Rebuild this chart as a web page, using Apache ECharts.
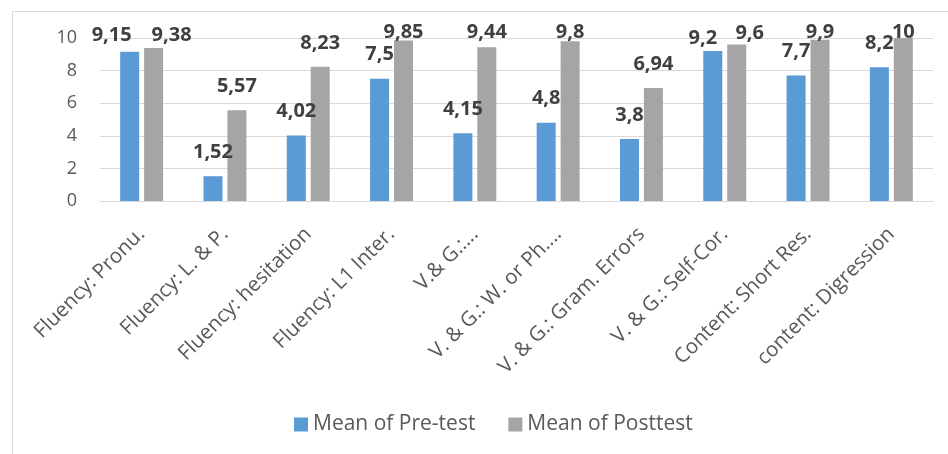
<!DOCTYPE html>
<html><head><meta charset="utf-8">
<script src="https://cdn.jsdelivr.net/npm/echarts@6/dist/echarts.min.js"></script>
<style>html,body{margin:0;padding:0;background:#fff}#c{width:948px;height:454px}</style>
</head><body><div id="c"></div>
<script>
const categories = ["Fluency: Pronu.", "Fluency: L. & P.", "Fluency: hesitation", "Fluency: L1 Inter.", "V.& G.:...", "V. & G.: W. or Ph....", "V. & G.: Gram. Errors", "V. & G.: Self-Cor.", "Content: Short Res.", "content: Digression"];
const preTest = [9.15, 1.52, 4.02, 7.5, 4.15, 4.8, 3.8, 9.2, 7.7, 8.2];
const postTest = [9.38, 5.57, 8.23, 9.85, 9.44, 9.8, 6.94, 9.6, 9.9, 10];
const seriesNames = ["Mean of Pre-test", "Mean of Posttest"];
const yTicks = [0, 2, 4, 6, 8, 10];

// label nudges for crowded groups: "seriesIndex-dataIndex" -> {dx, top}
const labelNudges = {
  '0-0': {dx: -18, top: 25}, '1-0': {dx: 18, top: 25},
  '0-7': {dx: -10, top: 28}, '1-7': {dx: 13, top: 23}
};

const chart = echarts.init(document.getElementById('c'));
const fmt = p => String(p.value).replace('.', ',');
const labelStyle = {show: true, position: 'top', distance: 14, formatter: fmt,
  fontFamily: 'Open Sans', fontWeight: 'bold', fontSize: 20, color: '#404040'};
function layout(p) {
  const r = p.labelRect;
  const n = labelNudges[p.seriesIndex + '-' + p.dataIndex];
  if (n) return {dx: n.dx, dy: n.top - r.y};
  const desired = Math.max(22, p.rect.y - 14 - r.height);
  return {dy: desired - r.y};
}
chart.setOption({
  animation: false,
  textStyle: {fontFamily: 'Open Sans'},
  graphic: [{type: 'rect', left: 10, top: 9, shape: {width: 960, height: 470},
    style: {fill: 'none', stroke: '#d9d9d9', lineWidth: 1}, silent: true}],
  grid: {left: 100, right: 15, top: 38, bottom: 253},
  legend: {bottom: 14, left: 289, itemWidth: 14, itemHeight: 14, itemGap: 33, icon: 'rect',
    textStyle: {fontSize: 21, color: '#595959', fontFamily: 'Open Sans'},
    data: seriesNames},
  xAxis: {type: 'category', data: categories,
    axisLine: {lineStyle: {color: '#d9d9d9', width: 1}}, axisTick: {show: false},
    axisLabel: {rotate: 45, interval: 0, margin: 30, fontSize: 20.5, color: '#595959', fontFamily: 'Open Sans'}},
  yAxis: {type: 'value', min: yTicks[0], max: yTicks[yTicks.length - 1], interval: 2,
    axisLine: {show: false}, axisTick: {show: false},
    splitLine: {lineStyle: {color: '#d9d9d9', width: 1}},
    axisLabel: {margin: 23, fontSize: 18, color: '#595959', fontFamily: 'Open Sans'}},
  series: [
    {name: seriesNames[0], type: 'bar', data: preTest, barWidth: 19, barGap: '26%',
     itemStyle: {color: '#5B9BD5'}, label: labelStyle, labelLayout: layout},
    {name: seriesNames[1], type: 'bar', data: postTest, barWidth: 19, barGap: '26%',
     itemStyle: {color: '#A5A5A5'}, label: labelStyle, labelLayout: layout}
  ]
});
</script></body></html>
